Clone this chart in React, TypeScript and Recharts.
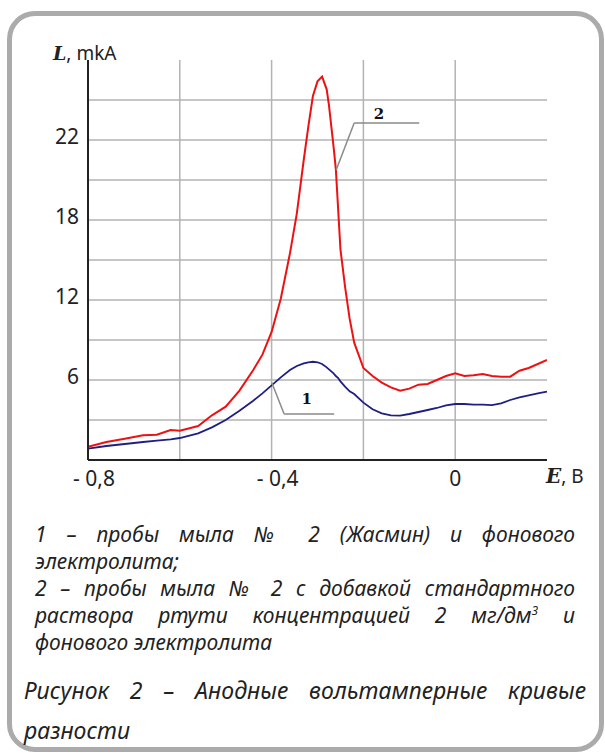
import React from "react";
import {
  LineChart,
  Line,
  XAxis,
  YAxis,
  CartesianGrid,
  ReferenceLine,
  ReferenceDot,
} from "recharts";

// potential E, V
const potentials = [
  -0.8, -0.76, -0.72, -0.68, -0.65, -0.62, -0.6, -0.56, -0.53, -0.5, -0.47,
  -0.44, -0.42, -0.4, -0.38, -0.36, -0.345, -0.33, -0.32, -0.31, -0.3, -0.29,
  -0.28, -0.275, -0.265, -0.26, -0.255, -0.25, -0.24, -0.23, -0.22, -0.2,
  -0.18, -0.16, -0.14, -0.12, -0.1, -0.08, -0.06, -0.04, -0.02, 0, 0.02, 0.04,
  0.06, 0.08, 0.1, 0.12, 0.14, 0.16, 0.18, 0.2,
];

// curve 1: soap sample + background electrolyte
const soapCurrent = [
  0.85, 1.05, 1.2, 1.35, 1.45, 1.55, 1.65, 2.0, 2.45, 3.0, 3.7, 4.45, 5.0, 5.6,
  6.2, 6.75, 7.05, 7.25, 7.33, 7.37, 7.33, 7.2, 6.95, 6.8, 6.5, 6.3, 6.15, 5.9,
  5.5, 5.15, 4.95, 4.3, 3.8, 3.5, 3.35, 3.33, 3.45, 3.6, 3.75, 3.9, 4.1, 4.2,
  4.2, 4.15, 4.15, 4.12, 4.25, 4.5, 4.7, 4.85, 5.0, 5.13,
];

// curve 2: soap sample + mercury standard + background electrolyte
const mercuryCurrent = [
  1.0, 1.35, 1.6, 1.85, 1.9, 2.25, 2.2, 2.55, 3.35, 4.0, 5.2, 6.75, 7.9, 9.6,
  12.1, 15.5, 18.5, 22.5, 25.0, 27.3, 28.4, 28.75, 27.8, 26.6, 23.5, 21.8,
  18.8, 15.8, 13.0, 10.6, 8.8, 6.9, 6.3, 5.8, 5.45, 5.2, 5.35, 5.65, 5.7, 6.0,
  6.3, 6.5, 6.3, 6.35, 6.45, 6.3, 6.25, 6.25, 6.7, 6.9, 7.2, 7.5,
];

const xTicks = [-0.8, -0.4, 0];
const xTickLabels = ["- 0,8", "- 0,4", "0"];
const yTicks = [6, 12, 18, 24];
const yTickLabels = ["6", "12", "18", "22"];
const gridX = [-0.6, -0.4, -0.2, 0];
const gridY = [3, 6, 9, 12, 15, 18, 21, 24, 27];

const data = potentials.map((e, i) => ({
  e,
  soap: soapCurrent[i],
  mercury: mercuryCurrent[i],
}));

const SANS = "'Noto Sans', 'Open Sans', sans-serif";
const SERIF = "'DejaVu Serif', 'Liberation Serif', serif";

function XTick({ x, y, payload }: any) {
  const i = xTicks.indexOf(payload.value);
  const label = xTickLabels[i] ?? "";
  const dx = label.startsWith("-") ? 6 : 0;
  return (
    <text
      x={x + dx}
      y={y + 26}
      textAnchor="middle"
      fontFamily={SANS}
      fontSize={21}
      fill="#222"
    >
      {label}
    </text>
  );
}

function YTick({ x, y, payload }: any) {
  const i = yTicks.indexOf(payload.value);
  return (
    <text
      x={x - 9}
      y={y + 4}
      textAnchor="end"
      fontFamily={SANS}
      fontSize={21}
      fill="#222"
    >
      {yTickLabels[i] ?? ""}
    </text>
  );
}

const leader = { stroke: "#8a8a8a", strokeWidth: 1.5, ifOverflow: "visible" as const };
const markLabel = {
  position: "center" as const,
  fill: "#111",
  fontSize: 15,
  fontWeight: 700,
  fontFamily: SERIF,
};

const lineStyle: React.CSSProperties = {
  height: 27,
  lineHeight: "27px",
  textAlign: "justify",
  textAlignLast: "justify",
  whiteSpace: "nowrap",
};

export default function App() {
  return (
    <div
      style={{
        position: "absolute",
        left: 0,
        top: 0,
        width: 605,
        height: 753,
        background: "#fff",
        overflow: "hidden",
        fontFamily: SANS,
      }}
    >
      <div
        style={{
          position: "absolute",
          left: 7,
          top: 11,
          width: 597,
          height: 741,
          boxSizing: "border-box",
          border: "5px solid #ababab",
          borderRadius: 28,
        }}
      />

      <div style={{ position: "absolute", left: 0, top: 0 }}>
        <LineChart
          width={605}
          height={500}
          data={data}
          margin={{ top: 60, right: 58, bottom: 10, left: 28 }}
        >
          <CartesianGrid
            horizontalValues={gridY}
            verticalValues={gridX}
            stroke="#b3b3b3"
            strokeWidth={1.5}
          />
          <XAxis
            dataKey="e"
            type="number"
            domain={[-0.8, 0.2]}
            ticks={xTicks}
            tick={<XTick />}
            tickLine={false}
            tickSize={0}
            tickMargin={0}
            axisLine={{ stroke: "#222", strokeWidth: 2 }}
            height={30}
            allowDataOverflow
          />
          <YAxis
            type="number"
            domain={[0, 30]}
            ticks={yTicks}
            tick={<YTick />}
            tickLine={false}
            tickSize={0}
            tickMargin={0}
            axisLine={{ stroke: "#222", strokeWidth: 2 }}
            width={60}
            allowDataOverflow
          />
          <Line
            dataKey="soap"
            type="linear"
            stroke="#1e1e85"
            strokeWidth={1.8}
            dot={false}
            isAnimationActive={false}
          />
          <Line
            dataKey="mercury"
            type="linear"
            stroke="#ee1111"
            strokeWidth={2}
            dot={false}
            isAnimationActive={false}
          />
          {/* leader for curve 2 */}
          <ReferenceLine
            segment={[
              { x: -0.2593, y: 21.75 },
              { x: -0.2201, y: 25.28 },
            ]}
            {...leader}
          />
          <ReferenceLine
            segment={[
              { x: -0.2201, y: 25.28 },
              { x: -0.0784, y: 25.28 },
            ]}
            {...leader}
          />
          <ReferenceDot
            x={-0.166}
            y={26.0}
            r={0}
            stroke="none"
            fill="none"
            label={{ value: "2", ...markLabel }}
          />
          {/* leader for curve 1 */}
          <ReferenceLine
            segment={[
              { x: -0.3995, y: 5.8 },
              { x: -0.3727, y: 3.45 },
            ]}
            {...leader}
          />
          <ReferenceLine
            segment={[
              { x: -0.3727, y: 3.45 },
              { x: -0.2637, y: 3.45 },
            ]}
            {...leader}
          />
          <ReferenceDot
            x={-0.3233}
            y={4.6}
            r={0}
            stroke="none"
            fill="none"
            label={{ value: "1", ...markLabel }}
          />
        </LineChart>
      </div>

      {/* axis titles */}
      <div
        style={{
          position: "absolute",
          left: 53,
          top: 42,
          fontSize: 19,
          lineHeight: "22px",
          color: "#222",
          whiteSpace: "nowrap",
        }}
      >
        <span style={{ fontFamily: SERIF, fontStyle: "italic", fontWeight: 700, fontSize: 19 }}>
          L
        </span>
        <span>, mkA</span>
      </div>
      <div
        style={{
          position: "absolute",
          left: 546,
          top: 464,
          fontSize: 19,
          lineHeight: "24px",
          color: "#222",
          whiteSpace: "nowrap",
        }}
      >
        <span style={{ fontFamily: SERIF, fontStyle: "italic", fontWeight: 700, fontSize: 20 }}>
          E
        </span>
        <span>, B</span>
      </div>

      {/* legend text */}
      <div
        style={{
          position: "absolute",
          left: 35,
          top: 521,
          width: 540,
          fontSize: 21,
          fontStyle: "italic",
          color: "#222",
        }}
      >
        <div style={lineStyle}>1 – пробы мыла № 2 (Жасмин) и фонового</div>
        <div style={{ ...lineStyle, textAlignLast: "left" }}>электролита;</div>
        <div style={lineStyle}>2 – пробы мыла № 2 с добавкой стандартного</div>
        <div style={lineStyle}>
          раствора ртути концентрацией 2 мг/дм
          <sup style={{ fontSize: 12, lineHeight: 0 }}>3</sup> и
        </div>
        <div style={{ ...lineStyle, textAlignLast: "left" }}>фонового электролита</div>
      </div>

      {/* figure caption */}
      <div
        style={{
          position: "absolute",
          left: 24,
          top: 670,
          width: 562,
          fontSize: 23,
          fontStyle: "italic",
          color: "#222",
        }}
      >
        <div style={{ ...lineStyle, height: 40, lineHeight: "40px" }}>
          Рисунок 2 – Анодные  вольтамперные кривые
        </div>
        <div style={{ ...lineStyle, height: 40, lineHeight: "40px", textAlignLast: "left" }}>
          разности
        </div>
      </div>
    </div>
  );
}
